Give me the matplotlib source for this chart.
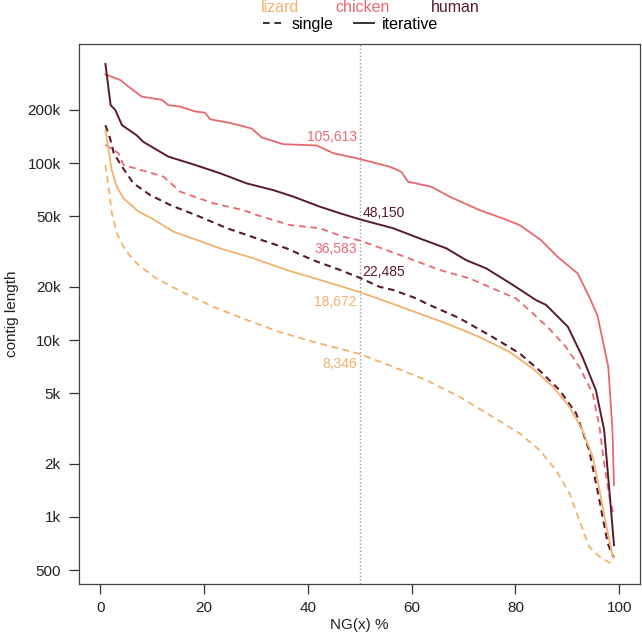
import matplotlib
matplotlib.use("Agg")
import matplotlib.pyplot as plt
from matplotlib.lines import Line2D
from matplotlib.ticker import FixedLocator, FixedFormatter, NullLocator

plt.rcParams['font.family'] = ['Liberation Sans', 'DejaVu Sans']
plt.rcParams['lines.scale_dashes'] = False

# values (NG(x) %, contig length)
chicken_iter_x = [1, 3.8, 6.1, 8, 11.9, 13.1, 15.4, 18.3, 20.2, 21.2, 25, 29.2, 31.1, 35.3,
                  41.7, 44.9, 50, 55.8, 58, 59.3, 63.8, 67.3, 73.1, 77.6, 80.8, 84.9, 88.1,
                  92, 94.2, 95.8, 97.9, 98.7, 99]
chicken_iter_y = [318000, 296000, 262000, 238000, 228000, 213000, 209000, 196000, 193000,
                  177000, 169000, 157000, 140000, 128000, 126000, 114000, 105613, 95500,
                  89500, 78600, 73600, 64700, 54300, 48700, 44700, 36800, 29600, 23800,
                  17600, 13800, 7060, 3100, 1510]

human_iter_x = [1, 2, 2.9, 4.2, 7, 8.3, 13.1, 18.3, 23.1, 28.2, 33.3, 37.2, 42.3, 46.2, 50,
                56.4, 61.5, 66.7, 70.5, 74.4, 79.5, 84, 85.9, 90.1, 92.9, 95.5, 97.1, 98.1, 99]
human_iter_y = [364000, 213000, 200000, 164000, 144000, 132000, 109000, 97700, 87700, 76900,
                70500, 64700, 56800, 52100, 48150, 42900, 37600, 33000, 28300, 25400, 20500,
                16800, 15800, 11900, 8050, 5210, 3100, 1420, 692]

human_single_x = [1, 1.9, 2.6, 4.2, 6.4, 9.6, 13.5, 19.2, 24.4, 30.1, 35.9, 41, 46.2, 50,
                  53.8, 56.4, 60.9, 62.8, 69.2, 75.6, 80.8, 84.9, 88.5, 91.7, 94.2, 95.8,
                  97.8, 98.7, 99]
human_single_y = [164000, 138000, 114000, 95500, 76900, 66100, 58000, 49800, 42900, 37600,
                  33000, 28300, 24900, 22485, 20000, 19200, 17200, 16100, 13300, 10400, 8410,
                  6620, 5210, 3850, 2390, 1420, 708, 608, 590]

chicken_single_x = [1, 3.5, 4.5, 9, 12.2, 15.4, 21.8, 27.6, 30.1, 36.5, 42.3, 46.8, 50, 57.7,
                    65.4, 71.2, 76.3, 80.1, 83.3, 86.5, 89.7, 92.3, 94.9, 96.2, 97.1, 98.1, 99]
chicken_single_y = [127000, 114000, 97700, 89500, 83900, 69000, 59300, 54300, 51000, 44700,
                    42900, 38400, 36583, 30300, 24900, 22300, 19200, 17200, 14200, 11600,
                    9170, 7060, 4990, 3230, 2010, 1300, 1000]

lizard_iter_x = [1, 1.6, 2.2, 3.2, 4.5, 7.4, 9.9, 14.1, 18.6, 23.1, 29.5, 35.9, 42.3, 50,
                 59.6, 66.7, 73.1, 78.8, 83.3, 87.2, 90.4, 92.9, 94.9, 96.2, 97.4, 98.7, 99]
lizard_iter_y = [154000, 119000, 91600, 73600, 63200, 53200, 48800, 41000, 36800, 33000,
                 29000, 24900, 21900, 18672, 14800, 12400, 10400, 8590, 6920, 5450, 4200,
                 3100, 2190, 1420, 918, 608, 590]

lizard_single_x = [1, 1.6, 2.25, 3.2, 4.8, 7, 10.3, 14.7, 21.8, 28.2, 34.6, 41, 50, 56.4,
                   62.8, 69.2, 75.6, 80.8, 84.6, 87.8, 90.4, 92.3, 94.2, 96.2, 99]
lizard_single_y = [97700, 73600, 52000, 40100, 32300, 27200, 22800, 19400, 15400, 13000,
                   11100, 9780, 8346, 7060, 5940, 4780, 3680, 2970, 2390, 1840, 1360, 960,
                   678, 596, 533]

species = ["lizard", "chicken", "human"]
colors = {"lizard": "#F3B16E", "chicken": "#E8686F", "human": "#5A1A2D"}

y_ticks = [500, 1000, 2000, 5000, 10000, 20000, 50000, 100000, 200000]
y_tick_labels = ["500", "1k", "2k", "5k", "10k", "20k", "50k", "100k", "200k"]
x_ticks = [0, 20, 40, 60, 80, 100]

# label at NG50: (value, species, side, vertical offset in points)
ng50_labels = [
    (105613, "chicken", "right", 16),
    (48150, "human", "left", 4.5),
    (22485, "human", "left", 4.5),
    (36583, "chicken", "right", -6),
    (18672, "lizard", "right", -7.5),
    (8346, "lizard", "right", -7.5),
]

fig = plt.figure(figsize=(6.42, 6.38), dpi=100)
ax = fig.add_axes([0.1238, 0.0846, 0.873, 0.8464])

ax.axvline(50, color="#9a9a9a", ls=(0, (1, 1.6)), lw=1.0, zorder=1)

lw = 1.3
dash = (0, (4.8, 3.4))
ax.plot(lizard_single_x, lizard_single_y, color=colors["lizard"], lw=lw, ls=dash)
ax.plot(chicken_single_x, chicken_single_y, color=colors["chicken"], lw=lw, ls=dash)
ax.plot(human_single_x, human_single_y, color=colors["human"], lw=lw + 0.2, ls=dash)
ax.plot(lizard_iter_x, lizard_iter_y, color=colors["lizard"], lw=lw)
ax.plot(chicken_iter_x, chicken_iter_y, color=colors["chicken"], lw=lw)
ax.plot(human_iter_x, human_iter_y, color=colors["human"], lw=lw + 0.1)

for val, sp, side, dy in ng50_labels:
    dx = -2 if side == "right" else 2
    ax.annotate(f"{val:,}", xy=(50, val), xytext=(dx, dy), textcoords="offset points",
                ha="right" if side == "right" else "left", va="center",
                color=colors[sp], fontsize=10)

ax.set_yscale("log")
ax.set_xlim(-4, 104)
ax.set_ylim(417, 472000)
ax.yaxis.set_major_locator(FixedLocator(y_ticks))
ax.yaxis.set_major_formatter(FixedFormatter(y_tick_labels))
ax.yaxis.set_minor_locator(NullLocator())
ax.set_xticks(x_ticks)
ax.tick_params(axis="both", direction="out", length=7.5, width=0.9, color="#333333",
               labelsize=11, labelcolor="#222222")
ax.tick_params(axis="y", pad=6)
ax.tick_params(axis="x", pad=5)
for s in ax.spines.values():
    s.set_linewidth(0.9)
    s.set_color("#444444")

ax.set_xlabel("NG(x) %", fontsize=11, color="#222222", labelpad=2)
ax.set_ylabel("contig length", fontsize=11, color="#222222", labelpad=6)

# species colour key
key_x = [0.436, 0.564, 0.709]
for sp, kx in zip(species, key_x):
    fig.text(kx, 0.988, sp, ha="center", va="center", fontsize=11.5, color=colors[sp])

style_handles = [Line2D([], [], color="#222222", lw=1.3, ls=(0, (4.8, 3.4))),
                 Line2D([], [], color="#222222", lw=1.3)]
fig.legend(style_handles, ["single", "iterative"], ncol=2, loc="center",
           bbox_to_anchor=(0.546, 0.962), frameon=False, handlelength=1.3,
           handletextpad=0.45, columnspacing=1.3, fontsize=11.5)

fig.savefig("out.png", dpi=100)
